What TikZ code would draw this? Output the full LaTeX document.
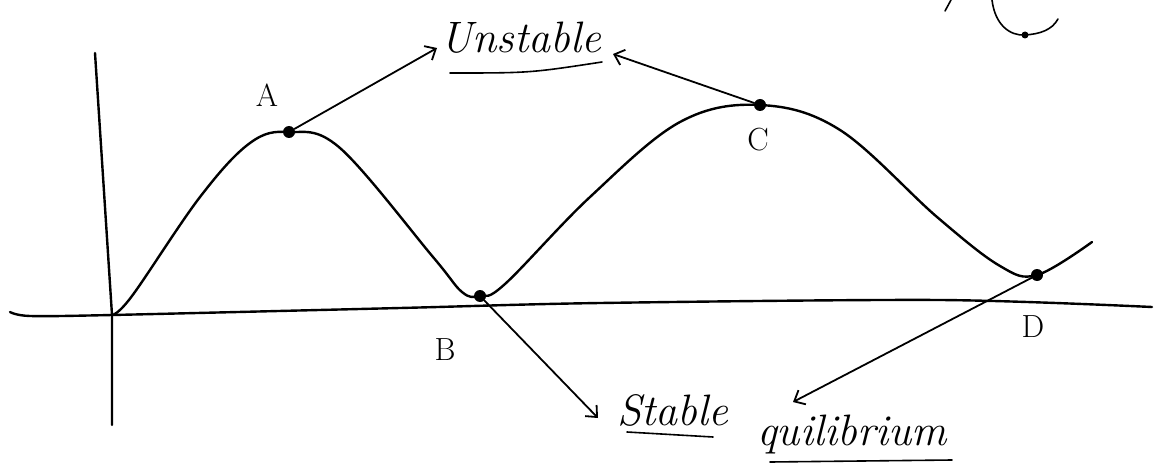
\documentclass[tikz,border=0pt]{standalone}
\usepackage{tikz}
\usetikzlibrary{positioning, arrows.meta}

\begin{document}
\begin{tikzpicture}[x=1pt, y=-1pt,
        pen/.style={line width=2.4pt, line cap=round, line join=round},
        dot/.style={circle, fill, inner sep=0pt, minimum size=12pt},
        word/.style={font=\fontsize{44}{50}\selectfont\itshape, inner sep=0pt, anchor=base},
        letter/.style={font=\fontsize{32}{38}\selectfont, inner sep=0pt},
        arrow/.style={-{Straight Barb[length=9pt, width=16pt]}, line width=1.8pt, line cap=round}]

        \useasboundingbox (0,0) rectangle (1155,473);

        % axes
        \coordinate (O) at (112,315);
        \draw[pen] plot[smooth, tension=0.5] coordinates {(10,312) (30,316) (O) (400,308) (600,303) (940,300) (1152,307)};
        \draw[pen] (95,53) -- (O) -- (112,425);

        % points of equilibrium
        \node[dot] (A) at (289,132) {};
        \node[dot] (B) at (480,296) {};
        \node[dot] (C) at (760,105) {};
        \node[dot] (D) at (1037,275) {};

        % the curve
        \draw[pen] plot[smooth, tension=0.6] coordinates {(O) (132,296) (200,197) (250,143) (A)
            (340,148) (433,257) (462,292) (B) (505,284) (590,197) (680,122) (C)
            (840,130) (937,217) (1000,266) (D) (1092,242)};

        \node[letter] (labA) at (267,95)  {A};
        \node[letter] (labB) at (445,350) {B};
        \node[letter] (labC) at (758,140) {C};
        \node[letter] (labD) at (1033,327) {D};

        % notes
        \node[word] (unstable) at (521,53)  {Unstable};
        \node[word] (stable)   at (673,425) {Stable};
        \node[word] (equil)    at (852,445) {quilibrium};

        \draw[pen, line width=1.6pt] (450,73) .. controls (530,73) .. (602,62);
        \draw[pen, line width=1.6pt] (627,432) .. controls (670,434) .. (713,437);
        \draw[pen, line width=1.6pt] (770,462) -- (952,460);

        \coordinate (tipA) at (437,48);
        \coordinate (tipC) at (613,54);
        \coordinate (tipB) at (598,418);
        \coordinate (tipD) at (793,402);

        \draw[arrow] (A) -- (tipA);
        \draw[arrow] (C) -- (tipC);
        \draw[arrow] (B) -- (tipB);
        \draw[arrow] (D) -- (tipD);

        % piece of another sketch, top right
        \node[dot, minimum size=7pt] (E) at (1025,35) {};
        \draw[pen, line width=1.6pt] (945,11) -- (951,0);
        \draw[pen, line width=1.6pt] (992,0) .. controls (995,25) and (1010,36) .. (E.center) .. controls (1040,34) and (1052,30) .. (1058,19);
\end{tikzpicture}
\end{document}
